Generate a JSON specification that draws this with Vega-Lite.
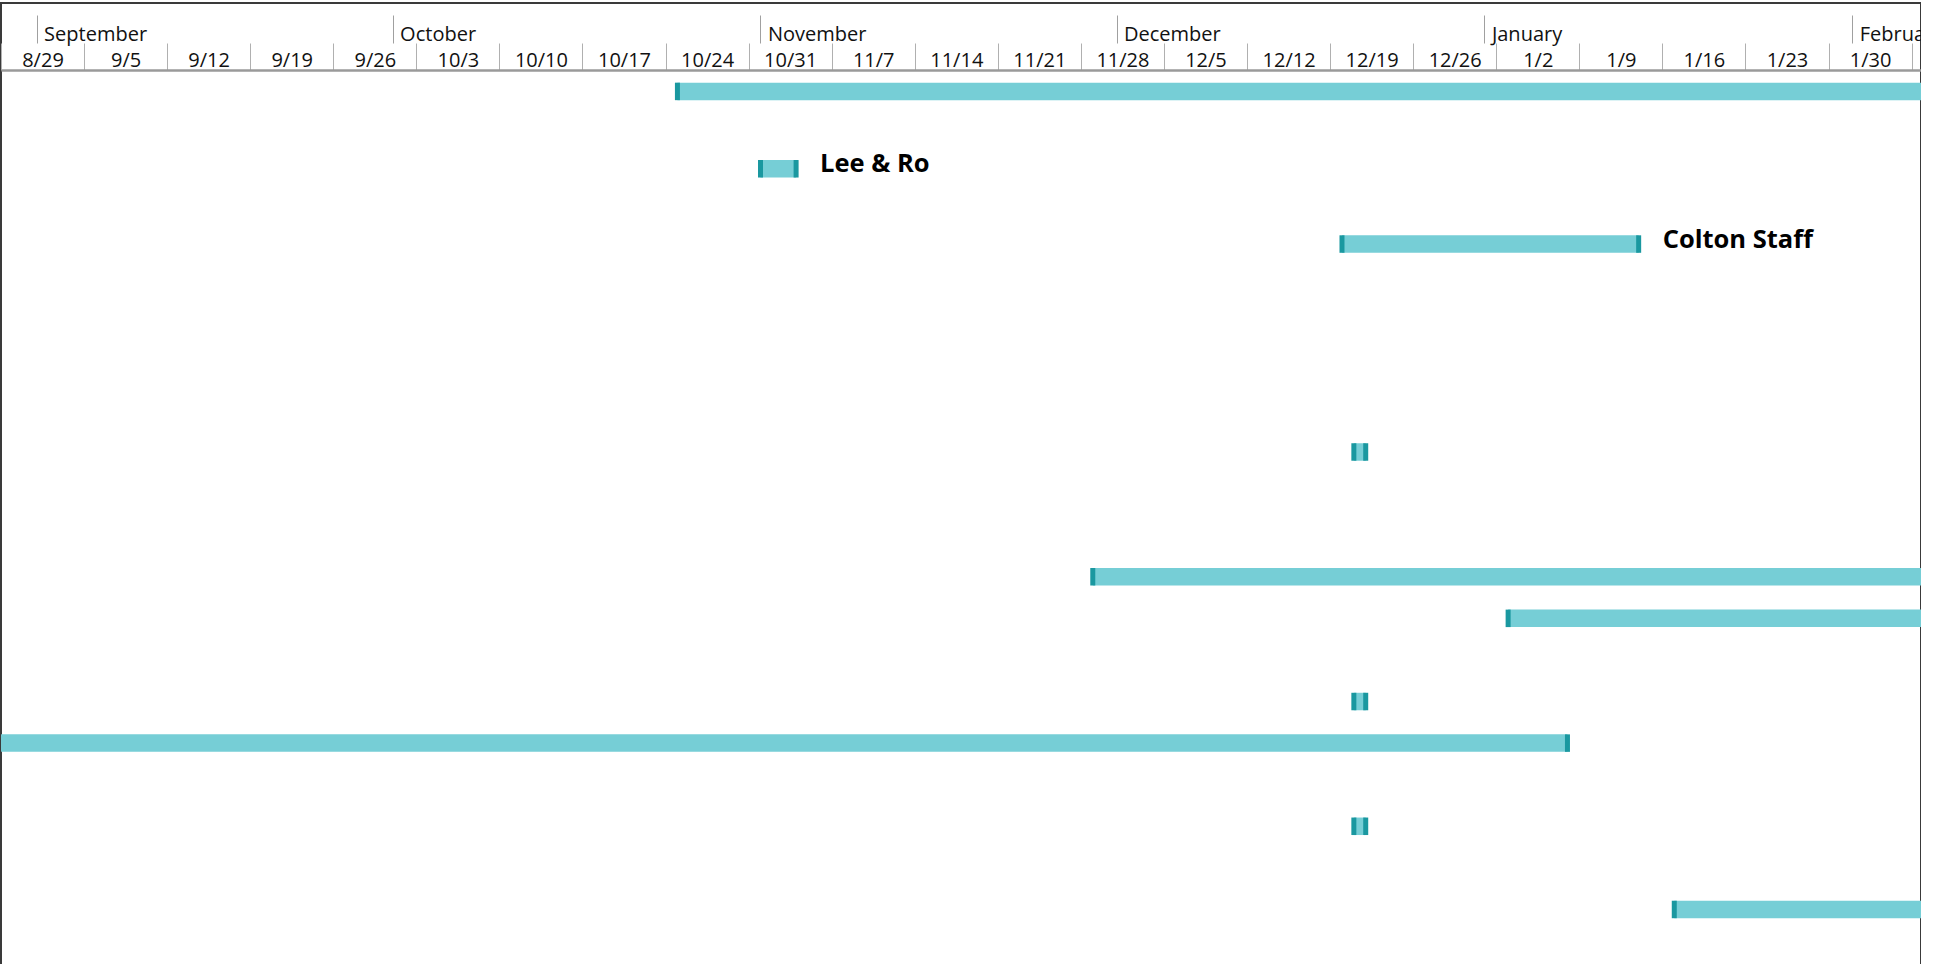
{
  "$schema": "https://vega.github.io/schema/vega-lite/v6.json",
  "width": 1920,
  "height": 1000,
  "autosize": {"type": "none"},
  "padding": {"left": 1, "top": 3, "right": 0, "bottom": 0},
  "background": "white",
  "config": {
    "view": {"stroke": "#3a3a3a", "strokeWidth": 2},
    "font": "Open Sans"
  },
  "data": {
    "values": [
      {"lane": 0.33, "start": "2022-10-25", "end": "2023-03-31"},
      {"lane": 2.19, "start": "2022-11-01", "end": "2022-11-04", "label": "Lee & Ro"},
      {"lane": 4, "start": "2022-12-20", "end": "2023-01-14", "label": "Colton Staff"},
      {"lane": 9, "start": "2022-12-21", "end": "2022-12-22"},
      {"lane": 12, "start": "2022-11-29", "end": "2023-03-31"},
      {"lane": 13, "start": "2023-01-03", "end": "2023-03-31"},
      {"lane": 15, "start": "2022-12-21", "end": "2022-12-22"},
      {"lane": 16, "start": "2022-08-01", "end": "2023-01-08"},
      {"lane": 18, "start": "2022-12-21", "end": "2022-12-22"},
      {"lane": 20, "start": "2023-01-17", "end": "2023-03-31"}
    ]
  },
  "layer": [
    {
      "mark": {"type": "rule", "strokeWidth": 17.5, "color": "#76CED6", "strokeCap": "butt", "clip": true},
      "encoding": {
        "x": {
          "field": "start",
          "type": "temporal",
          "scale": {
            "type": "utc",
            "nice": false,
            "domain": [
              {"year": 2022, "month": 8, "date": 29, "utc": true},
              {"year": 2023, "month": 2, "date": 6, "hours": 19, "utc": true}
            ]
          },
          "axis": {
            "orient": "top",
            "offset": -67,
            "title": null,
            "grid": false,
            "format": "%-m/%-d",
            "values": [
              {"year": 2022, "month": 8, "date": 29, "utc": true},
              {"year": 2022, "month": 9, "date": 5, "utc": true},
              {"year": 2022, "month": 9, "date": 12, "utc": true},
              {"year": 2022, "month": 9, "date": 19, "utc": true},
              {"year": 2022, "month": 9, "date": 26, "utc": true},
              {"year": 2022, "month": 10, "date": 3, "utc": true},
              {"year": 2022, "month": 10, "date": 10, "utc": true},
              {"year": 2022, "month": 10, "date": 17, "utc": true},
              {"year": 2022, "month": 10, "date": 24, "utc": true},
              {"year": 2022, "month": 10, "date": 31, "utc": true},
              {"year": 2022, "month": 11, "date": 7, "utc": true},
              {"year": 2022, "month": 11, "date": 14, "utc": true},
              {"year": 2022, "month": 11, "date": 21, "utc": true},
              {"year": 2022, "month": 11, "date": 28, "utc": true},
              {"year": 2022, "month": 12, "date": 5, "utc": true},
              {"year": 2022, "month": 12, "date": 12, "utc": true},
              {"year": 2022, "month": 12, "date": 19, "utc": true},
              {"year": 2022, "month": 12, "date": 26, "utc": true},
              {"year": 2023, "month": 1, "date": 2, "utc": true},
              {"year": 2023, "month": 1, "date": 9, "utc": true},
              {"year": 2023, "month": 1, "date": 16, "utc": true},
              {"year": 2023, "month": 1, "date": 23, "utc": true},
              {"year": 2023, "month": 1, "date": 30, "utc": true},
              {"year": 2023, "month": 2, "date": 6, "utc": true}
            ],
            "labelExpr": "datum.value >= utc(2023, 1, 5) ? '' : datum.label",
            "domain": true,
            "domainColor": "#9a9a9a",
            "domainWidth": 2.5,
            "ticks": true,
            "tickSize": 27,
            "tickColor": "#b0b0b0",
            "tickWidth": 1,
            "labelOffset": 41.5,
            "labelPadding": -23,
            "labelBaseline": "alphabetic",
            "labelAlign": "center",
            "labelFontSize": 20,
            "labelColor": "#111111",
            "labelFlush": false,
            "labelOverlap": false,
            "labelBound": false
          }
        },
        "x2": {"field": "end"},
        "y": {
          "field": "lane",
          "type": "quantitative",
          "scale": {"domain": [-1.796, 22.249], "reverse": true, "nice": false, "zero": false},
          "axis": null
        }
      }
    },
    {
      "transform": [{"fold": ["start", "end"], "as": ["edge", "date"]}],
      "mark": {"type": "tick", "orient": "vertical", "thickness": 5, "size": 17.5, "color": "#1A98A0", "opacity": 1, "clip": true},
      "encoding": {
        "x": {
          "field": "date",
          "type": "temporal",
          "axis": {
            "orient": "top",
            "offset": -40,
            "title": null,
            "grid": false,
            "format": "%B",
            "values": [
              {"year": 2022, "month": 9, "date": 1, "utc": true},
              {"year": 2022, "month": 10, "date": 1, "utc": true},
              {"year": 2022, "month": 11, "date": 1, "utc": true},
              {"year": 2022, "month": 12, "date": 1, "utc": true},
              {"year": 2023, "month": 1, "date": 1, "utc": true},
              {"year": 2023, "month": 2, "date": 1, "utc": true}
            ],
            "labelExpr": "datum.label == 'February' ? 'Februa' : datum.label",
            "domain": false,
            "ticks": true,
            "tickSize": 28,
            "tickColor": "#a0a0a0",
            "tickWidth": 1,
            "labelAlign": "left",
            "labelOffset": 7,
            "labelPadding": -25,
            "labelBaseline": "alphabetic",
            "labelFontSize": 20,
            "labelColor": "#111111",
            "labelFlush": false,
            "labelOverlap": false,
            "labelBound": false
          }
        },
        "y": {"field": "lane", "type": "quantitative"}
      }
    },
    {
      "transform": [{"filter": "datum.label != null"}],
      "mark": {"type": "text", "align": "left", "baseline": "alphabetic", "dx": 24, "dy": 3.5, "fontSize": 25.5, "fontWeight": "bold", "color": "#000000"},
      "encoding": {
        "x": {"field": "end", "type": "temporal", "axis": null},
        "y": {"field": "lane", "type": "quantitative"},
        "text": {"field": "label"}
      }
    }
  ],
  "resolve": {"axis": {"x": "independent"}}
}
